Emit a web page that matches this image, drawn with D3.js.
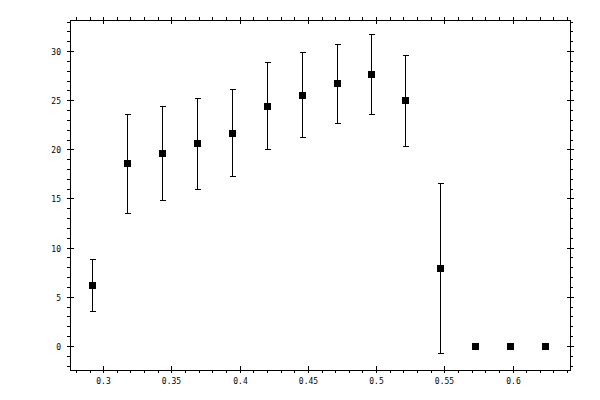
<!DOCTYPE html>
<html>
<head>
<meta charset="utf-8">
<script src="https://cdn.jsdelivr.net/npm/d3@7"></script>
<style>
  body { margin: 0; background: #fff; }
  svg { display: block; }
  .lbl { font-family: "DejaVu Sans Mono", monospace; font-size: 8px; fill: #000; }
</style>
</head>
<body>
<div id="graf"></div>
<script>
// datos
const xVals = [0.2920, 0.3175, 0.3431, 0.3687, 0.3943, 0.4199, 0.4455, 0.4711, 0.4966, 0.5215, 0.5471, 0.5727, 0.5982, 0.6238];
const yVals = [6.21, 18.57, 19.59, 20.60, 21.70, 24.45, 25.58, 26.70, 27.62, 24.97, 7.93, 0, 0, 0];
const yErr  = [2.67, 5.0, 4.78, 4.62, 4.45, 4.42, 4.29, 4.06, 4.07, 4.6, 8.68, 0, 0, 0];

const xMajor = [0.3, 0.35, 0.4, 0.45, 0.5, 0.55, 0.6];
const xLabels = ["0.3", "0.35", "0.4", "0.45", "0.5", "0.55", "0.6"];
const yMajor = [0, 5, 10, 15, 20, 25, 30];
const yLabels = ["0", "5", "10", "15", "20", "25", "30"];

const W = 600, H = 400;
const margin = { top: 20, right: 30, bottom: 30, left: 70 };
const x0 = margin.left, x1 = W - margin.right;
const y0 = H - margin.bottom, y1 = margin.top;

const x = d3.scaleLinear().domain([0.2757, 0.6421]).range([x0, x1]);
const y = d3.scaleLinear().domain([-2.45, 33.16]).range([y0, y1]);

const svg = d3.select("#graf").append("svg")
  .attr("width", W).attr("height", H)
  .attr("shape-rendering", "crispEdges");

// marco
svg.append("rect")
  .attr("x", x0 + 0.5).attr("y", y1 + 0.5)
  .attr("width", x1 - x0).attr("height", y0 - y1)
  .attr("fill", "none").attr("stroke", "#000");

// ticks menores (hacia afuera)
const xMinor = d3.range(28, 65).map(d => d / 100).filter(d => x(d) > x0 && x(d) < x1);
const yMinor = d3.range(-2, 34).filter(d => y(d) < y0 && y(d) > y1);

const ticks = svg.append("g").attr("stroke", "#000");

xMinor.forEach(d => {
  const px = Math.round(x(d)) + 0.5;
  ticks.append("line").attr("x1", px).attr("x2", px).attr("y1", y0).attr("y2", y0 + 3);
  ticks.append("line").attr("x1", px).attr("x2", px).attr("y1", y1 + 1).attr("y2", y1 - 3);
});
yMinor.forEach(d => {
  const py = Math.round(y(d)) + 0.5;
  ticks.append("line").attr("x1", x0 + 1).attr("x2", x0 - 3).attr("y1", py).attr("y2", py);
  ticks.append("line").attr("x1", x1).attr("x2", x1 + 3).attr("y1", py).attr("y2", py);
});

// ticks mayores (cruzan el marco)
xMajor.forEach(d => {
  const px = Math.round(x(d)) + 0.5;
  ticks.append("line").attr("x1", px).attr("x2", px).attr("y1", y0 - 4).attr("y2", y0 + 3);
  ticks.append("line").attr("x1", px).attr("x2", px).attr("y1", y1 + 4).attr("y2", y1 - 3);
});
yMajor.forEach(d => {
  const py = Math.round(y(d)) + 0.5;
  ticks.append("line").attr("x1", x0 + 4).attr("x2", x0 - 3).attr("y1", py).attr("y2", py);
  ticks.append("line").attr("x1", x1 - 3).attr("x2", x1 + 4).attr("y1", py).attr("y2", py);
});

// etiquetas
svg.selectAll(".xl").data(xMajor).enter().append("text")
  .attr("class", "lbl")
  .attr("x", d => Math.round(x(d)) + 0.5)
  .attr("y", y0 + 14)
  .attr("text-anchor", "middle")
  .text((d, i) => xLabels[i]);

svg.selectAll(".yl").data(yMajor).enter().append("text")
  .attr("class", "lbl")
  .attr("x", x0 - 9)
  .attr("y", d => Math.round(y(d)) + 3.5)
  .attr("text-anchor", "end")
  .text((d, i) => yLabels[i]);

// barras de error
const pts = xVals.map((d, i) => ({ x: d, y: yVals[i], e: yErr[i] }));
const eb = svg.append("g").attr("stroke", "#000");
pts.filter(d => d.e > 0).forEach(d => {
  const px = Math.round(x(d.x)) + 0.5;
  const top = Math.round(y(d.y + d.e)) + 0.5;
  const bot = Math.round(y(d.y - d.e)) + 0.5;
  eb.append("line").attr("x1", px).attr("x2", px).attr("y1", top).attr("y2", bot);
  eb.append("line").attr("x1", px - 3).attr("x2", px + 3).attr("y1", top).attr("y2", top);
  eb.append("line").attr("x1", px - 3).attr("x2", px + 3).attr("y1", bot).attr("y2", bot);
});

// marcadores cuadrados
svg.selectAll("rect.pt").data(pts).enter().append("rect")
  .attr("class", "pt")
  .attr("x", d => Math.round(x(d.x)) - 3)
  .attr("y", d => Math.round(y(d.y)) - 3)
  .attr("width", 7).attr("height", 7)
  .attr("fill", "#000");
</script>
</body>
</html>
